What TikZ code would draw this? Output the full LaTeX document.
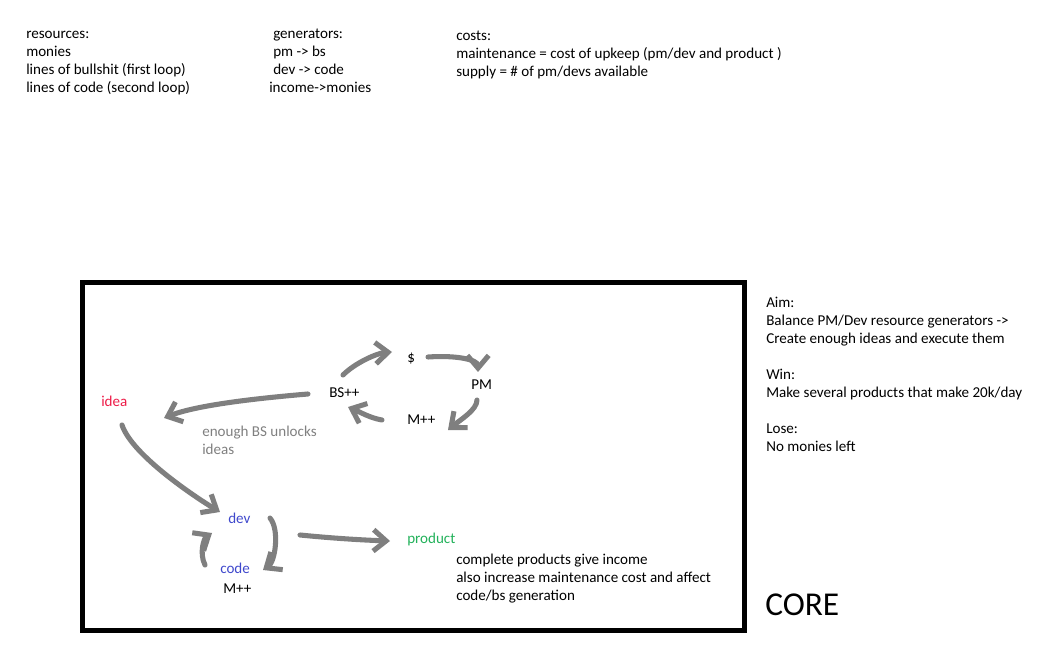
\documentclass[tikz,border=0pt]{standalone}
\usepackage{fontspec}
\setmainfont{Carlito}
\usetikzlibrary{arrows.meta}
\definecolor{arrowgray}{RGB}{127,127,127}
\definecolor{notegray}{RGB}{128,128,128}
\definecolor{ideared}{RGB}{237,28,72}
\definecolor{devblue}{RGB}{63,72,204}
\definecolor{prodgreen}{RGB}{34,177,90}

\begin{document}
\begin{tikzpicture}[x=0.75pt, y=-0.75pt,
  every node/.style={inner sep=0, font=\fontsize{11.3pt}{13.5pt}\selectfont},
  word/.style={anchor=base west},
  block/.style={anchor=north west, align=left},
  flow/.style={draw=arrowgray, line width=3.8pt, line cap=round, line join=round,
    -{Straight Barb[length=9.5pt, width=16pt]}}]
\useasboundingbox (0, 0) rectangle (1058, 645);

\node (res) at (26, 25.9) [block] {\strut resources:\\ monies\\ lines of bullshit (first loop)\\ lines of code (second loop)};
\node (gens) at (269, 25.7) [block] {\strut\hspace*{3pt}generators:\\ \hspace*{3pt}pm -> bs\\ \hspace*{3pt}dev -> code\\ income->monies};
\node (costs) at (456, 28.1) [block] {\strut costs:\\ maintenance = cost of upkeep (pm/dev and product )\\ supply = \# of pm/devs available};

\draw[line width=3.75pt] (82.5, 282.5) rectangle (744, 630.5);

\node (aim) at (766, 294.7) [block] {\strut Aim:\\ Balance PM/Dev resource generators ->\\ Create enough ideas and execute them\\[13.5pt] Win:\\ Make several products that make 20k/day\\[13.5pt] Lose:\\ No monies left};
\node (core) at (765, 615) [word, font=\fontsize{25pt}{30pt}\selectfont] {CORE};

\node (bs) at (329, 398) [word] {BS++};
\node (dollar) at (407, 363) [word] {\$};
\node (pm) at (471, 390) [word] {PM};
\node (mpp) at (407, 425) [word] {M++};
\node (idea) at (101, 407) [word, text=ideared] {idea};
\node (unlock) at (202, 424.1) [block, text=notegray] {\strut enough BS unlocks\\ ideas};
\node (dev) at (228, 523) [word, text=devblue] {dev};
\node (code) at (220, 574) [word, text=devblue] {code};
\node (mcode) at (223, 593) [word] {M++};
\node (product) at (407, 543) [word, text=prodgreen] {product};
\node (prodnote) at (456, 551.4) [block] {\strut complete products give income\\ also increase maintenance cost and affect\\ code/bs generation};

\draw[flow] ([shift={(14,-23)}]bs.base west) .. controls +(12,-12) and +(-15,1) .. ([shift={(-15,-11)}]dollar.base west);
\draw[flow] ([shift={(21,-6)}]dollar.base west) .. controls +(30,-2) and +(0,-12) .. ([shift={(7,-18)}]pm.base west);
\draw[flow] ([shift={(6,10)}]pm.base west) .. controls +(0,10) and +(12,-10) .. ([shift={(41,5)}]mpp.base west);
\draw[flow] ([shift={(-25,-5)}]mpp.base west) .. controls +(-12,-2) and +(12,5) .. ([shift={(19,9)}]bs.base west);
\draw[flow] ([shift={(-21,-4)}]bs.base west) .. controls +(-60,5) and +(30,-12) .. ([shift={(63,11)}]idea.base west);
\draw[flow] ([shift={(21,18)}]idea.base west) .. controls +(10,30) and +(-25,-15) .. ([shift={(-8,-11)}]dev.base west);
\draw[flow] ([shift={(42,-5)}]dev.base west) .. controls +(10,12) and +(12,-8) .. ([shift={(43,-4)}]code.base west);
\draw[flow] ([shift={(-15,-9)}]code.base west) .. controls +(-6,-12) and +(-8,5) .. ([shift={(-16,10)}]dev.base west);
\draw[flow] ([shift={(72,12)}]dev.base west) .. controls +(30,3) and +(-30,-1) .. ([shift={(-17,-2)}]product.base west);
\end{tikzpicture}
\end{document}
